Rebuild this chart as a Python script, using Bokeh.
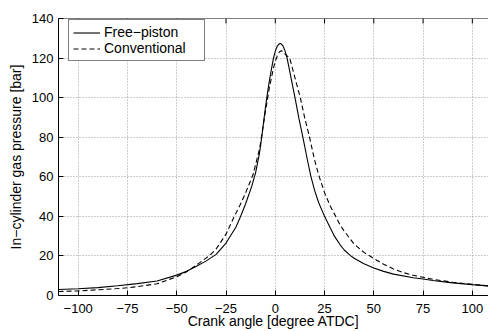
import math
from bokeh.plotting import figure
from bokeh.models import Range1d, FixedTicker, Legend, LegendItem, Span
from bokeh.embed import file_html
from bokeh.resources import INLINE

# ---- data ----
fp_angle = [-110, -100, -90, -80, -70, -60, -50, -45, -40, -35, -30, -25, -20, -18, -15,
            -12, -10, -8, -7, -5, -4, -3, -2, -1, 0, 1, 2, 2.5, 3, 4, 5, 6, 8, 10, 12, 14,
            16, 18, 20, 22, 25, 28, 30, 33, 35, 38, 40, 45, 50, 55, 60, 70, 75, 80, 90,
            100, 110]
fp_pressure = [3.0, 3.4, 4.0, 4.9, 6.0, 7.3, 10.3, 12.2, 14.8, 17.5, 20.8, 26.5, 34.5, 39.0, 46.5,
               55.0, 62.0, 72.0, 79.0, 95.0, 102.0, 108.5, 114.0, 119.5, 123.5, 126.0, 127.2, 127.4, 127.2, 126.0, 123.5, 120.0, 110.0, 100.0, 89.5, 80.0,
               70.0, 60.5, 53.0, 47.0, 40.0, 34.0, 30.0, 25.5, 23.0, 20.3, 18.8, 16.0, 13.9, 12.2, 10.8, 9.0, 8.3, 7.6, 6.4,
               5.5, 4.7]

cv_angle = [-110, -100, -90, -80, -75, -70, -60, -50, -45, -40, -35, -33, -30, -25, -21,
            -18, -15, -11.3, -8, -7, -5, -3, -1, 0, 1, 2, 3, 4, 5, 7.3, 10, 12.7, 15,
            17.4, 19.8, 22, 25, 28, 30.4, 33, 35, 40, 45, 48, 50, 55, 60, 65, 70, 75, 80,
            90, 100, 110]
cv_pressure = [2.0, 2.3, 2.9, 3.5, 3.9, 4.5, 5.9, 9.5, 12.0, 15.4, 19.0, 20.5, 23.5, 31.0, 39.5,
               45.5, 52.0, 61.0, 74.0, 80.0, 93.0, 105.0, 114.5, 118.5, 121.0, 123.0, 123.7, 123.3, 122.0, 120.0, 110.0, 100.0, 89.5,
               80.0, 69.0, 61.0, 52.0, 45.0, 40.5, 35.5, 32.5, 26.0, 21.8, 20.0, 18.7, 15.8, 13.4, 11.6, 10.2, 9.2, 8.2,
               6.7, 5.6, 4.7]

series_names = ["Free\u2212piston", "Conventional"]
x_ticks = [-100, -75, -50, -25, 0, 25, 50, 75, 100]
x_tick_labels = ["\u2212100", "\u221275", "\u221250", "\u221225", "0", "25", "50", "75", "100"]
y_ticks = [0, 20, 40, 60, 80, 100, 120, 140]
x_label = "Crank angle [degree ATDC]"
y_label = "In\u2212cylinder gas pressure [bar]"

FONT = "Liberation Sans"
Y_MAX = y_ticks[-1]

p = figure(width=488, height=331, output_backend="svg", toolbar_location=None,
           x_range=Range1d(-110, 108.2), y_range=Range1d(0, Y_MAX),
           min_border_left=58, min_border_right=0, min_border_top=18, min_border_bottom=35,
           background_fill_color="white", border_fill_color="white")
p.outline_line_color = None

l1 = p.line(fp_angle, fp_pressure, line_color="black", line_width=1.1)
l2 = p.line(cv_angle, cv_pressure, line_color="black", line_width=1.1, line_dash="5 3")

# top box edge with inward ticks
p.add_layout(Span(location=Y_MAX, dimension="width", line_color="black", line_width=1))
p.ray(x=x_ticks, y=[Y_MAX] * len(x_ticks), length=5, length_units="screen",
      angle=-math.pi / 2, line_color="black", line_width=1)

xa = p.xaxis[0]
ya = p.yaxis[0]
xa.ticker = FixedTicker(ticks=x_ticks)
xa.major_label_overrides = {t: s for t, s in zip(x_ticks, x_tick_labels)}
ya.ticker = FixedTicker(ticks=y_ticks)

for ax in (xa, ya):
    ax.axis_line_color = "black"
    ax.axis_line_width = 1
    ax.major_tick_line_color = "black"
    ax.major_tick_in = 5
    ax.major_tick_out = 0
    ax.minor_tick_line_color = None
    ax.major_label_text_font = FONT
    ax.major_label_text_font_size = "13px"
    ax.major_label_text_color = "black"
    ax.axis_label_text_font = FONT
    ax.axis_label_text_font_size = "14px"
    ax.axis_label_text_font_style = "normal"
    ax.axis_label_text_color = "black"

xa.axis_label = x_label
xa.major_label_standoff = 8
xa.axis_label_standoff = -3

ya.axis_label = y_label
ya.major_label_standoff = 5
ya.axis_label_standoff = 5

p.xgrid.ticker = FixedTicker(ticks=x_ticks)
p.ygrid.ticker = FixedTicker(ticks=y_ticks)
for g in (p.xgrid, p.ygrid):
    g.grid_line_color = "#9a9a9a"
    g.grid_line_dash = "1 2"
    g.grid_line_width = 1

legend = Legend(items=[LegendItem(label=series_names[0], renderers=[l1]),
                       LegendItem(label=series_names[1], renderers=[l2])],
                location=(10, 234))
legend.border_line_color = "black"
legend.border_line_width = 1
legend.background_fill_color = "white"
legend.background_fill_alpha = 1
legend.label_text_font = FONT
legend.label_text_font_size = "14px"
legend.label_text_color = "black"
legend.glyph_width = 27
legend.glyph_height = 15
legend.label_height = 15
legend.label_width = 96
legend.label_standoff = 4
legend.spacing = 0
legend.padding = 4
legend.margin = 0
p.add_layout(legend, "center")

open("out.html", "w").write(file_html(p, INLINE))
